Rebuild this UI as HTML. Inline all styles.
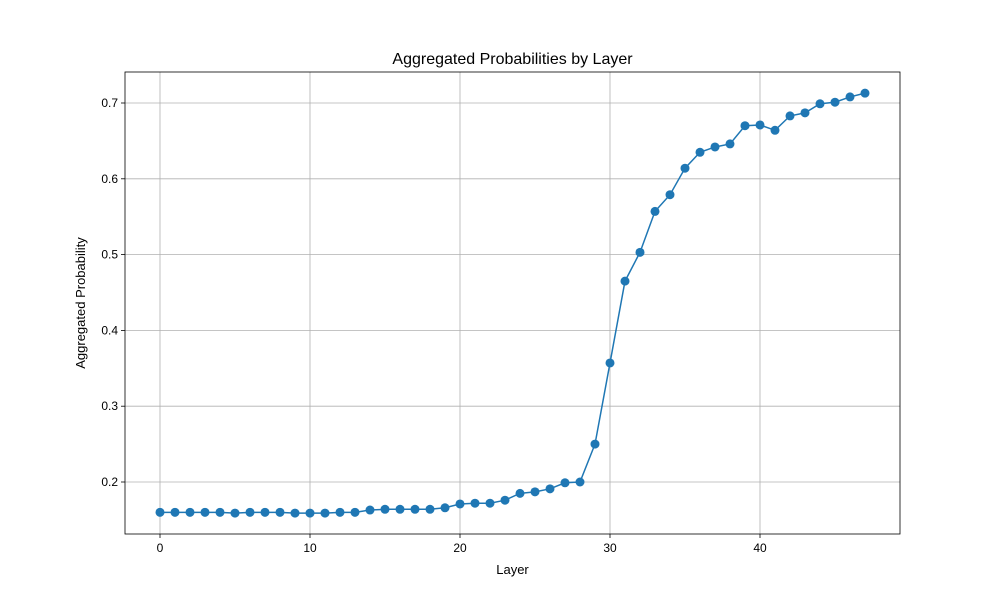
<!DOCTYPE html>
<html><head><meta charset="utf-8"><style>
body{margin:0;background:#fff;}
svg{display:block;font-family:"Liberation Sans","DejaVu Sans",sans-serif;}
</style></head><body>
<svg id="chart" width="1000" height="600"></svg>
<script>
const layers = Array.from({length:48},(_,i)=>i);
const probs = [0.160,0.160,0.160,0.160,0.160,0.159,0.160,0.160,0.160,0.159,0.159,0.159,0.160,0.160,0.163,0.164,0.164,0.164,0.164,0.166,0.171,0.172,0.172,0.176,0.185,0.187,0.191,0.199,0.200,0.250,0.357,0.465,0.503,0.557,0.579,0.614,0.635,0.642,0.646,0.670,0.671,0.664,0.683,0.687,0.699,0.701,0.708,0.713];
const xTicks = [0,10,20,30,40];
const yTicks = [0.2,0.3,0.4,0.5,0.6,0.7];

const NS="http://www.w3.org/2000/svg";
const svg=document.getElementById('chart');
const L=125,R=900,T=72,B=534;
const xs=v=>160+(v-0)*15;
const ys=v=>482-(v-0.2)*758;
function mk(tag,attrs,parent){const e=document.createElementNS(NS,tag);for(const k in attrs)e.setAttribute(k,attrs[k]);(parent||svg).appendChild(e);return e;}

const grid=mk('g',{});


xTicks.forEach(t=>{
  mk('line',{x1:xs(t),x2:xs(t),y1:T,y2:B,stroke:'#b0b0b0','stroke-width':0.8},grid);
  mk('line',{x1:xs(t),x2:xs(t),y1:B,y2:B+4,stroke:'#000','stroke-width':0.8});
  const tx=mk('text',{x:xs(t),y:B+18,'text-anchor':'middle','font-size':12});
  tx.textContent=t;
  
  
});
yTicks.forEach(t=>{
  mk('line',{x1:L,x2:R,y1:ys(t),y2:ys(t),stroke:'#b0b0b0','stroke-width':0.8},grid);
  mk('line',{x1:L-4,x2:L,y1:ys(t),y2:ys(t),stroke:'#000','stroke-width':0.8});
  const tx=mk('text',{x:L-7,y:ys(t)+4,'text-anchor':'end','font-size':12});
  tx.textContent=t.toFixed(1);
  
  
});
const line=mk('polyline',{points:layers.map((l,i)=>xs(l)+','+ys(probs[i])).join(' '),fill:'none',stroke:'#1f77b4','stroke-width':1.5});


layers.forEach((l,i)=>{
  const c=mk('circle',{cx:xs(l),cy:ys(probs[i]),r:4.5,fill:'#1f77b4'});
  
  
});
const frame=mk('rect',{x:L,y:T,width:R-L,height:B-T,fill:'none',stroke:'#000','stroke-width':0.8});


const title=mk('text',{x:(L+R)/2,y:64,'text-anchor':'middle','font-size':16});
title.textContent='Aggregated Probabilities by Layer';


const xl=mk('text',{x:(L+R)/2,y:574,'text-anchor':'middle','font-size':13});
xl.textContent='Layer';


const yl=mk('text',{x:0,y:0,'text-anchor':'middle','font-size':13,transform:'translate(85,303) rotate(-90)'});
yl.textContent='Aggregated Probability';


</script>
</body></html>
